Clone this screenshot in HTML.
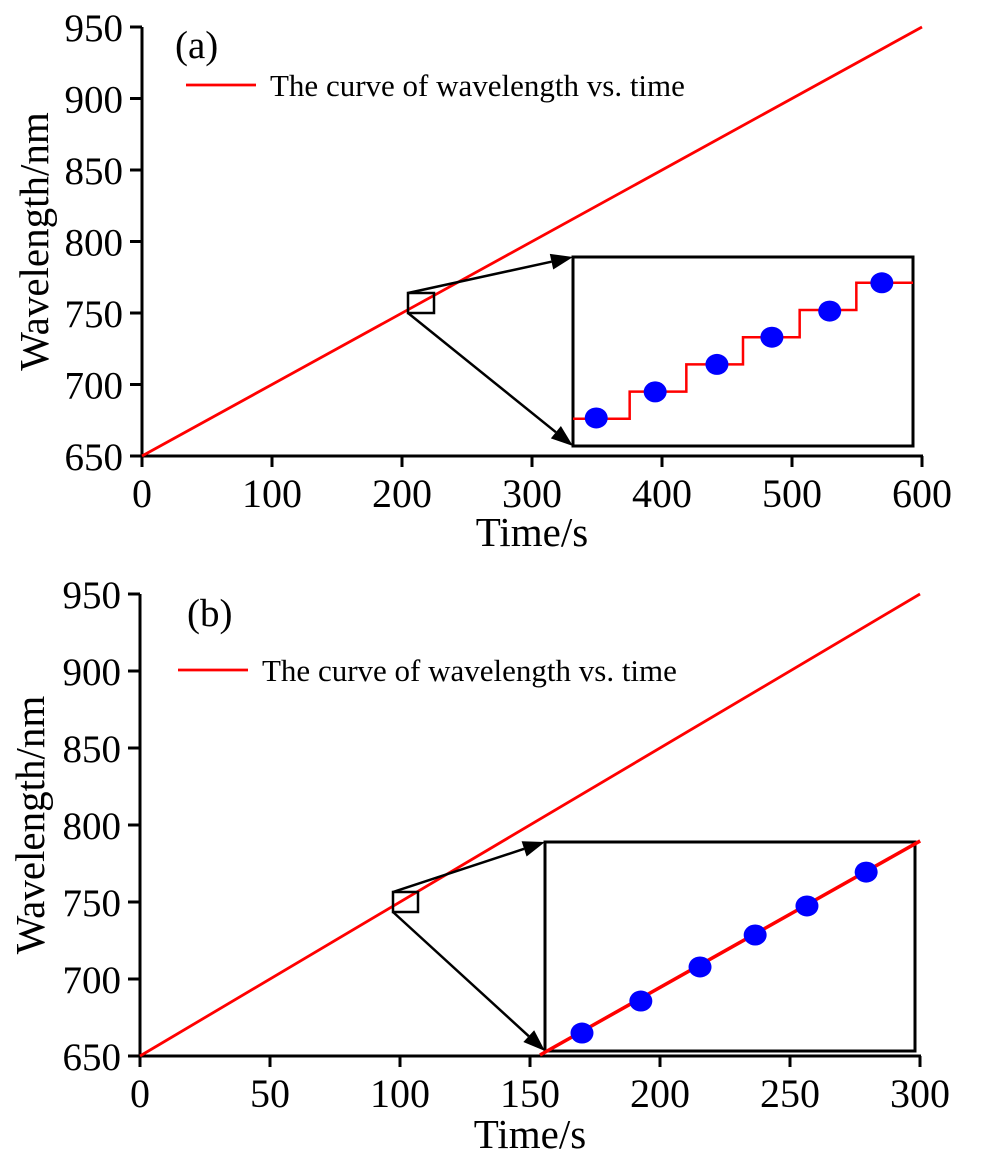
<!DOCTYPE html>
<html><head><meta charset="utf-8"><style>
html,body{margin:0;padding:0;background:#fff;}
svg{display:block;font-family:"Liberation Serif",serif;}
</style></head><body>
<svg id="c" width="1000" height="1161" viewBox="0 0 1000 1161" xmlns="http://www.w3.org/2000/svg"></svg>
<script>
const timeA=[0,600];
const waveA=[650,950];
const xTicksA=[0,100,200,300,400,500,600];
const timeB=[0,300];
const waveB=[650,950];
const xTicksB=[0,50,100,150,200,250,300];
const yTicks=[650,700,750,800,850,900,950];
const stepEdgesA=[0,1,2,3,4,5,6];
const stepLevelsA=[1,2,3,4,5,6];
const dotXA=[0.41,1.45,2.54,3.51,4.53,5.45];
const dotYA=[1.03,1.99,3.0,4.0,4.96,6.0];
const lineXB=[-0.135,10.14];
const lineYB=[-0.19,10.05];
const dotXB=[1.0,2.59,4.19,5.68,7.08,8.68];
const dotYB=[0.86,2.39,4.02,5.55,6.94,8.56];

const NS="http://www.w3.org/2000/svg";
const svg=document.getElementById('c');
function mk(tag,attrs,parent){const e=document.createElementNS(NS,tag);for(const k in attrs)e.setAttribute(k,attrs[k]);(parent||svg).appendChild(e);return e;}
function lin(d0,d1,r0,r1){return v=>r0+(v-d0)*(r1-r0)/(d1-d0);}

function panel(cfg){
  const g=mk('g',{});
  
  
  const sx=lin(cfg.xd[0],cfg.xd[1],cfg.x0,cfg.x1);
  const sy=lin(650,950,cfg.y0,cfg.y1);
  const ax=mk('line',{x1:cfg.x0-1,y1:cfg.y0,x2:cfg.x1+1,y2:cfg.y0,stroke:'#000','stroke-width':3},g);
  
  const ay=mk('line',{x1:cfg.x0,y1:cfg.y0,x2:cfg.x0,y2:cfg.y1,stroke:'#000','stroke-width':3},g);
  
  cfg.xt.forEach(v=>{
    const x=sx(v);
    const t=mk('line',{x1:x,y1:cfg.y0,x2:x,y2:cfg.y0+11,stroke:'#000','stroke-width':3},g);
    
    const l=mk('text',{x:x,y:cfg.y0+51,'text-anchor':'middle','font-size':40},g);
    l.textContent=v;
    
  });
  yTicks.forEach(v=>{
    const y=sy(v);
    const t=mk('line',{x1:cfg.x0-12,y1:y,x2:cfg.x0,y2:y,stroke:'#000','stroke-width':3},g);
    
    const l=mk('text',{x:cfg.x0-19,y:y+14,'text-anchor':'end','font-size':39},g);
    l.textContent=v;
    
  });
  const yt=mk('text',{x:0,y:0,'text-anchor':'middle','font-size':41,transform:`translate(${cfg.ytx},${(cfg.y0+cfg.y1)/2}) rotate(-90)`},g);
  yt.textContent='Wavelength/nm';
  
  const xt=mk('text',{x:cfg.xtx,y:cfg.xty,'text-anchor':'middle','font-size':41},g);
  xt.textContent='Time/s';
  
  const pts=cfg.tx.map((t,i)=>sx(t)+','+sy(cfg.wy[i])).join(' ');
  const s=mk('polyline',{points:pts,fill:'none',stroke:'#ff0000','stroke-width':2.8},g);
  
  const pl=mk('text',{x:cfg.plx,y:cfg.ply,'font-size':39},g);
  pl.textContent=cfg.label;
  
  const lg=mk('g',{},g);
  
  mk('line',{x1:cfg.lgx,y1:cfg.lgy,x2:cfg.lgx+70,y2:cfg.lgy,stroke:'#ff0000','stroke-width':2.8},lg);
  const lt=mk('text',{x:cfg.lgx+84,y:cfg.lgy+11,'font-size':31},lg);
  lt.textContent='The curve of wavelength vs. time';
  const sq=mk('rect',{x:cfg.sq[0],y:cfg.sq[1],width:cfg.sq[2],height:cfg.sq[3],fill:'none',stroke:'#000','stroke-width':2.5},g);
  
  const ib=cfg.inset;
  [[cfg.sq[0],cfg.sq[1],ib[0],ib[1]],[cfg.sq[0],cfg.sq[1]+cfg.sq[3],ib[0],ib[3]]].forEach(a=>{
    const [x1,y1,x2,y2]=a;const ang=Math.atan2(y2-y1,x2-x1);
    const L=22,W=8;
    const bx=x2-L*Math.cos(ang),by=y2-L*Math.sin(ang);
    const ar=mk('g',{},g);
    
    mk('line',{x1:x1,y1:y1,x2:bx,y2:by,stroke:'#000','stroke-width':2.5},ar);
    mk('polygon',{points:`${x2},${y2} ${bx+W*Math.sin(ang)},${by-W*Math.cos(ang)} ${bx-W*Math.sin(ang)},${by+W*Math.cos(ang)}`,fill:'#000'},ar);
  });
  const box=mk('rect',{x:ib[0],y:ib[1],width:ib[2]-ib[0],height:ib[3]-ib[1],fill:'#fff',stroke:'#000','stroke-width':3},g);
  
  return g;
}

const gA=panel({name:'panel-a',x0:142,x1:922,y0:456,y1:27,xd:[0,600],xt:xTicksA,tx:timeA,wy:waveA,
  ytx:48,xtx:532,xty:546,plx:175,ply:58,label:'(a)',lgx:186,lgy:85,sq:[408,293,26,20],inset:[573,257,913,446]});
{
  const ix=lin(0,6,573,913), iy=v=>446-27.2*v;
  let p=[];
  stepLevelsA.forEach((lv,i)=>{p.push(ix(stepEdgesA[i])+','+iy(lv));p.push(ix(stepEdgesA[i+1])+','+iy(lv));});
  const st=mk('polyline',{points:p.join(' '),fill:'none',stroke:'#ff0000','stroke-width':2.5},gA);
  
  dotXA.forEach((x,i)=>{
    const d=mk('ellipse',{cx:ix(x),cy:iy(dotYA[i]),rx:11.5,ry:10.5,fill:'#0000ff'},gA);
    
  });
}
const gB=panel({name:'panel-b',x0:140,x1:920,y0:1056,y1:594,xd:[0,300],xt:xTicksB,tx:timeB,wy:waveB,
  ytx:44,xtx:530,xty:1148,plx:187,ply:626,label:'(b)',lgx:178,lgy:670,sq:[393,892,25,20],inset:[545,842,915,1051]});
{
  const ix=v=>545+37*v, iy=v=>1051-20.9*v;
  const ln=mk('polyline',{points:lineXB.map((x,i)=>ix(x)+','+iy(lineYB[i])).join(' '),fill:'none',stroke:'#ff0000','stroke-width':3.5},gB);
  
  dotXB.forEach((x,i)=>{
    const d=mk('ellipse',{cx:ix(x),cy:iy(dotYB[i]),rx:11.5,ry:10.5,fill:'#0000ff'},gB);
    
  });
}
</script>
</body></html>
